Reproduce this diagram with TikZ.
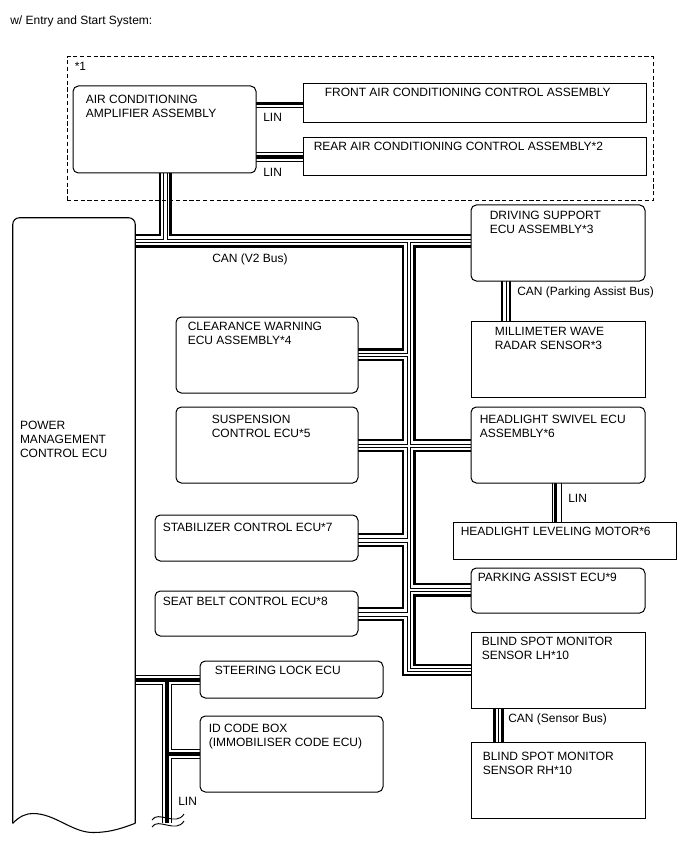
\documentclass[tikz,border=0pt]{standalone}
\usepackage{fontspec}
\setmainfont{Liberation Sans}
\usetikzlibrary{positioning,fit,backgrounds}
\tikzset{
  box/.style={draw,line width=0.75pt,fill=white,inner sep=0pt},
  rbox/.style={box,rounded corners=4pt},
  grp/.style={draw,line width=0.75pt,dash pattern=on 3.1pt off 2pt,inner sep=0pt},
  lbl/.style={anchor=north west,inner sep=0pt,align=left,
              font=\fontsize{9pt}{10.5pt}\selectfont},
  wth/.style={line width=1.8pt},
  wtn/.style={line width=0.7pt},
  linb/.style={line width=0.5pt,double=white,double distance=6pt},
  lint/.style={line width=2.4pt}
}
\begin{document}
\begin{tikzpicture}[x=0.75pt,y=-0.75pt]
  \useasboundingbox (0,0) rectangle (688,852);

  \node[lbl] (title) at (10,15.5) {w/ Entry and Start System:};

  % Air conditioning group
  \node[grp,fit={(67,57) (653,201)}] (acgrp) {};
  \node[lbl] (acnote) at ([shift={(8,5.5)}]acgrp.north west) {*1};
  \node[rbox,fit={(73,86) (256,173)}] (amp) {};
  \node[box,fit={(303,84) (646,123)}] (front) {};
  \node[box,fit={(303,138) (646,176)}] (rear) {};
  \node[lbl] at ([shift={(13,9.8)}]amp.north west) {AIR CONDITIONING\\AMPLIFIER ASSEMBLY};
  \node[lbl] at ([shift={(22,4.8)}]front.north west) {FRONT AIR CONDITIONING CONTROL ASSEMBLY};
  \node[lbl] at ([shift={(11,4.8)}]rear.north west) {REAR AIR CONDITIONING CONTROL ASSEMBLY*2};

  % Power management (cut off at the bottom)
  \node[fit={(13,218) (135,823)},inner sep=0pt,fill=white,rounded corners=5pt] (pm) {};
  \fill[white] (pm.south west) .. controls (20,816) and (26,813.5) .. (33,813.5)
    .. controls (55,813.5) and (72,832.5) .. (93,832.5)
    .. controls (112,832.5) and (125,827) .. (pm.south east) -- cycle;
  \draw[line width=0.8pt,rounded corners=5pt] (pm.south west) -- (pm.north west) -- (pm.north east) -- (pm.south east);
  \draw[line width=0.8pt] (pm.south west) .. controls (20,816) and (26,813.5) .. (33,813.5)
    .. controls (55,813.5) and (72,832.5) .. (93,832.5)
    .. controls (112,832.5) and (125,827) .. (pm.south east);
  \node[lbl] at ([shift={(7,202.8)}]pm.north west) {POWER\\MANAGEMENT\\CONTROL ECU};

  % Left column
  \node[rbox,fit={(176,317) (358,393)}] (clr) {};
  \node[rbox,fit={(176,407) (358,483)}] (susp) {};
  \node[rbox,fit={(155,515) (358,561)}] (stab) {};
  \node[rbox,fit={(155,591) (358,636)}] (seat) {};
  \node[rbox,fit={(200,661) (383,698)}] (steer) {};
  \node[rbox,fit={(200,716) (383,792)}] (idc) {};
  \node[lbl] at ([shift={(12,5.8)}]clr.north west) {CLEARANCE WARNING\\ECU ASSEMBLY*4};
  \node[lbl] at ([shift={(36,8.8)}]susp.north west) {SUSPENSION\\CONTROL ECU*5};
  \node[lbl] at ([shift={(8,8.3)}]stab.north west) {STABILIZER CONTROL ECU*7};
  \node[lbl] at ([shift={(8,6.3)}]seat.north west) {SEAT BELT CONTROL ECU*8};
  \node[lbl] at ([shift={(15,5.3)}]steer.north west) {STEERING LOCK ECU};
  \node[lbl] at ([shift={(9,8.8)}]idc.north west) {ID CODE BOX\\(IMMOBILISER CODE ECU)};

  % Right column
  \node[rbox,fit={(471,205) (645,281)}] (ds) {};
  \node[box,fit={(471,321) (645,397)}] (mmw) {};
  \node[rbox,fit={(471,407) (645,483)}] (hs) {};
  \node[box,fit={(453,522) (676,559)}] (hlm) {};
  \node[rbox,fit={(471,568) (645,613)}] (pa) {};
  \node[box,fit={(471,632) (645,708)}] (bsl) {};
  \node[box,fit={(471,742) (645,818)}] (bsr) {};
  \node[lbl] at ([shift={(19,6.8)}]ds.north west) {DRIVING SUPPORT\\ECU ASSEMBLY*3};
  \node[lbl] at ([shift={(24,6.8)}]mmw.north west) {MILLIMETER WAVE\\RADAR SENSOR*3};
  \node[lbl] at ([shift={(9,8.8)}]hs.north west) {HEADLIGHT SWIVEL ECU\\ASSEMBLY*6};
  \node[lbl] at ([shift={(8,5.8)}]hlm.north west) {HEADLIGHT LEVELING MOTOR*6};
  \node[lbl] at ([shift={(7,5.8)}]pa.north west) {PARKING ASSIST ECU*9};
  \node[lbl] at ([shift={(11,5.8)}]bsl.north west) {BLIND SPOT MONITOR\\SENSOR LH*10};
  \node[lbl] at ([shift={(12,10.3)}]bsr.north west) {BLIND SPOT MONITOR\\SENSOR RH*10};

  % Bus labels
  \node[lbl] (linf) at (263,112.8) {LIN};
  \node[lbl] (linr) at (263,168) {LIN};
  \node[lbl] (canv2) at (212,253.5) {CAN (V2 Bus)};
  \node[lbl] (canpa) at (517,286.5) {CAN (Parking Assist Bus)};
  \node[lbl] (linh) at (568,494) {LIN};
  \node[lbl] (cansb) at (508,714) {CAN (Sensor Bus)};
  \node[lbl] (linl) at (178,797) {LIN};

  \coordinate (linjn) at (167,680);
  \coordinate (linend) at (167,823);

  \begin{scope}[on background layer]
    % LIN lines
    \draw[linb] (amp.center |- 0,103.5) -- (front.center |- 0,103.5);
    \draw[linb] (amp.center |- 0,157) -- (rear.center |- 0,157);
    \draw[linb] (hs.center -| 557,0) -- (hlm.center -| 557,0);
    \draw[linb] (pm.center |- linjn) -- (steer.center |- linjn);
    \draw[linb] ([yshift=-3pt]linjn) -- (linend);
    \draw[linb] ([xshift=3pt]linjn |- 0,754) -- (idc.center |- 0,754);
    \draw[lint] (amp.center |- 0,103.5) -- (front.center |- 0,103.5);
    \draw[lint] (amp.center |- 0,157) -- (rear.center |- 0,157);
    \draw[lint] (hs.center -| 555.5,0) -- (hlm.center -| 555.5,0);
    \draw[lint] (pm.center |- linjn) -- (steer.center |- linjn);
    \draw[lint] (linjn) -- (linend);
    \draw[lint] (linjn |- 0,754) -- (idc.center |- 0,754);

    % CAN V2 bus
    \draw[wth] (amp.center -| 160,0) |- (pm.center |- 0,235);
    \draw[wtn] (amp.center -| 163.5,0) |- (pm.center |- 0,239);
    \draw[wth] (amp.center -| 170.5,0) |- (ds.center |- 0,235);
    \draw[wtn] (amp.center -| 167,0) |- (ds.center |- 0,239);
    \draw[wth] (pm.center |- 0,246.5) -| (403,349.5) -- (clr.center |- 0,349.5);
    \draw[wtn] (pm.center |- 0,242.5) -| (407,353) -- (clr.center |- 0,353);
    \draw[wth] (clr.center |- 0,360) -| (403,440) -- (susp.center |- 0,440);
    \draw[wtn] (clr.center |- 0,356.5) -| (407,444) -- (susp.center |- 0,444);
    \draw[wth] (susp.center |- 0,451) -| (403,534) -- (stab.center |- 0,534);
    \draw[wtn] (susp.center |- 0,447) -| (407,538.5) -- (stab.center |- 0,538.5);
    \draw[wth] (stab.center |- 0,546) -| (403,608) -- (seat.center |- 0,608);
    \draw[wtn] (stab.center |- 0,542) -| (407,612.5) -- (seat.center |- 0,612.5);
    \draw[wth] (seat.center |- 0,620) -| (403,675) -- (bsl.center |- 0,675);
    \draw[wtn] (seat.center |- 0,616) -| (407,671.5) -- (bsl.center |- 0,671.5);
    \draw[wth] (ds.center |- 0,246.5) -| (414.5,440) -- (hs.center |- 0,440);
    \draw[wtn] (ds.center |- 0,242.5) -| (410.5,444) -- (hs.center |- 0,444);
    \draw[wth] (hs.center |- 0,451) -| (414.5,584) -- (pa.center |- 0,584);
    \draw[wtn] (hs.center |- 0,447) -| (410.5,588) -- (pa.center |- 0,588);
    \draw[wth] (pa.center |- 0,595.5) -| (414.5,665) -- (bsl.center |- 0,665);
    \draw[wtn] (pa.center |- 0,591.5) -| (410.5,668.5) -- (bsl.center |- 0,668.5);

    % CAN sub buses
    \draw[wth] (ds.center -| 502,0) -- (mmw.center -| 502,0);
    \draw[wtn] (ds.center -| 506,0) -- (mmw.center -| 506,0);
    \draw[wth] (ds.center -| 510,0) -- (mmw.center -| 510,0);
    \draw[wth] (bsl.center -| 494.5,0) -- (bsr.center -| 494.5,0);
    \draw[wtn] (bsl.center -| 498.5,0) -- (bsr.center -| 498.5,0);
    \draw[wth] (bsl.center -| 502.5,0) -- (bsr.center -| 502.5,0);
  \end{scope}

  % break mark
  \draw[line width=0.7pt] (152,820) .. controls (158,810) and (176,827) .. (184,814);
  \draw[line width=0.7pt] (152,827) .. controls (158,817) and (176,834) .. (184,821);
\end{tikzpicture}
\end{document}
